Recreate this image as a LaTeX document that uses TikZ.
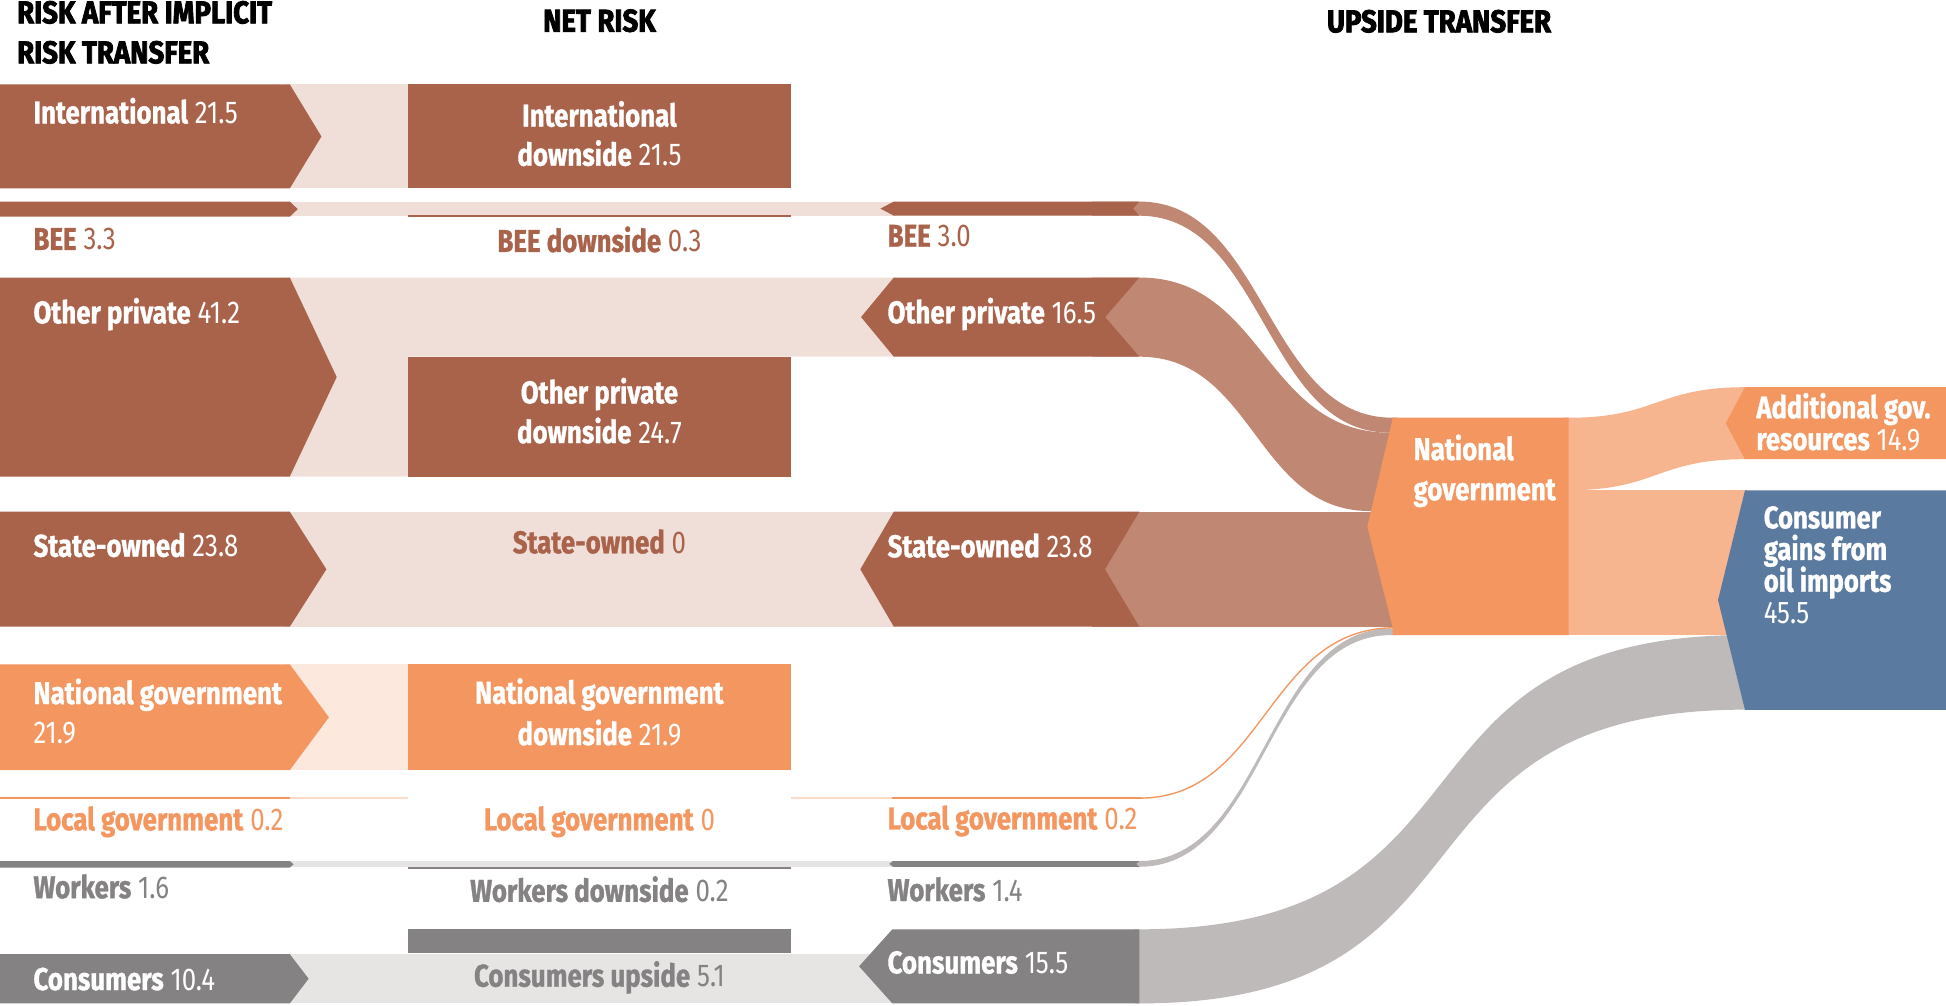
\documentclass[tikz,border=0pt]{standalone}
\usepackage{fontspec}
\setmainfont{Fira Sans}[FakeStretch=0.82, BoldFeatures={FakeBold=1}]
\newfontfamily\ttlfont{Fira Sans}[FakeStretch=0.875, BoldFeatures={FakeBold=2.5}]
\newcommand\msz{\fontsize{25.4}{30}\selectfont}
\newcommand\ssz{\fontsize{25.2}{26}\selectfont}
\newcommand\nv[2]{\textbf{#1} #2}
\definecolor{cBr}{RGB}{170,99,75}
\definecolor{cBrBand}{RGB}{240,223,216}
\definecolor{cBrFlow}{RGB}{192,135,114}
\definecolor{cOr}{RGB}{243,150,96}
\definecolor{cOrBand}{RGB}{253,232,222}
\definecolor{cOrFlow}{RGB}{246,181,143}
\definecolor{cOrFaint}{RGB}{251,218,200}
\definecolor{cGr}{RGB}{132,130,131}
\definecolor{cGrBand}{RGB}{230,229,228}
\definecolor{cGrFlow}{RGB}{189,186,185}
\definecolor{cBl}{RGB}{91,122,160}
\begin{document}
\begin{tikzpicture}[x=1pt,y=-1pt,
  lt/.style={inner sep=0pt, anchor=base west, font=\msz},
  ct/.style={inner sep=0pt, anchor=base, font=\msz},
  rt/.style={inner sep=0pt, anchor=base west, font=\ssz, text=white},
  ttl/.style={inner sep=0pt, font=\msz\ttlfont\bfseries, text=black}]
\useasboundingbox (0,0) rectangle (1568,810);
\fill[white] (0,0) rectangle (1568,810);

% ---------- light bands ----------
\fill[cBrBand] (230,68) rectangle (329,151.8);
\fill[cBrBand] (230,162.4) rectangle (722,173.8);
\fill[cBrBand] (230,223.6) -- (722,223.6) -- (722,287.4) -- (329,287.4) -- (329,384) -- (230,384) -- cycle;
\fill[cBrBand] (230,412.3) rectangle (722,505);
\fill[cOrBand] (230,535.3) rectangle (329,620.5);
\fill[cOrFaint] (230,642.4) rectangle (329,643.8);
\fill[cOrFaint] (637,642.4) rectangle (721,643.8);
\fill[cGrBand] (230,693.8) rectangle (722,698.3);
\fill[cGrBand] (230,768.8) rectangle (722,808.5);

% ---------- flows ----------
\fill[cBrFlow] (880,162.4) -- (918,162.4) .. controls (1020,162.4) and (1020,336.6) .. (1122,336.6)
  -- (1126,336.6) -- (1126,348.6) -- (1119.5,348.6) .. controls (1018.7,348.6) and (1018.7,173.8) .. (918,173.8) -- (880,173.8) -- cycle;
\fill[cBrFlow] (880,223.6) -- (918,223.6) .. controls (1018.7,223.6) and (1018.7,348.6) .. (1119.5,348.6)
  -- (1126,348.6) -- (1126,411.8) -- (1104,411.8) .. controls (1011,411.8) and (1011,287.4) .. (918,287.4) -- (880,287.4) -- cycle;
\fill[cBrFlow] (880,412.3) rectangle (1126,505);
\fill[cGrFlow] (910,693.8) -- (918,693.8) .. controls (1019.5,693.8) and (1019.5,506.4) .. (1121,506.4)
  -- (1126,506.4) -- (1126,511.7) -- (1121,511.7) .. controls (1019.5,511.7) and (1019.5,698.4) .. (918,698.4) -- (910,698.4) -- cycle;
\draw[cOr, line width=1.1pt] (918,643.1) .. controls (1020,643.1) and (1020,505.8) .. (1124,505.8);
\fill[cOrFlow] (1260,336.6) -- (1264,336.6) .. controls (1335,336.6) and (1335,312) .. (1406,312)
  -- (1406,370) .. controls (1335,370) and (1335,395) .. (1264,395) -- (1260,395) -- cycle;
\fill[cOrFlow] (1260,395) rectangle (1408,511.7);
\fill[cGrFlow] (914,748.8) -- (918,748.8) .. controls (1218,748.8) and (1106,511.7) .. (1406,511.7)
  -- (1410,511.7) -- (1410,571.8) -- (1406,571.8) .. controls (1106,571.8) and (1218,808.5) .. (918,808.5) -- (914,808.5) -- cycle;

% ---------- column 1 ----------
\fill[cBr] (0,68) -- (233.5,68) -- (259,110) -- (233.5,151.8) -- (0,151.8) -- cycle;
\fill[cBr] (0,162.4) -- (233.5,162.4) -- (239.9,168.5) -- (233.5,174.6) -- (0,174.6) -- cycle;
\fill[cBr] (0,223.6) -- (233.5,223.6) -- (271.3,303.8) -- (233.5,384) -- (0,384) -- cycle;
\fill[cBr] (0,412.3) -- (233.5,412.3) -- (263,458.7) -- (233.5,505) -- (0,505) -- cycle;
\fill[cOr] (0,535.3) -- (233.5,535.3) -- (265,578) -- (233.5,620.5) -- (0,620.5) -- cycle;
\fill[cOr] (0,642.2) rectangle (233.5,644);
\fill[cGr] (0,693.8) -- (233.5,693.8) -- (236.6,696.4) -- (233.5,699) -- (0,699) -- cycle;
\fill[cGr] (0,768.8) -- (233.5,768.8) -- (248.7,788.6) -- (233.5,808.5) -- (0,808.5) -- cycle;

% ---------- column 2 ----------
\fill[cBr] (329,68) rectangle (637,151.8);
\fill[cBr] (329,173.3) rectangle (637,175);
\fill[cBr] (329,287.4) rectangle (637,384);
\fill[cOr] (329,535.3) rectangle (637,620.5);
\fill[cGr] (329,698.3) rectangle (637,699.8);
\fill[cGr] (329,748.8) rectangle (637,768.2);

% ---------- column 3 ----------
\fill[cBr] (709.4,168.1) -- (720.2,162.4) -- (918,162.4) -- (913,168.1) -- (918,173.8) -- (720.2,173.8) -- cycle;
\fill[cBr] (693.8,255.5) -- (720.2,223.6) -- (918,223.6) -- (890.5,255.5) -- (918,287.4) -- (720.2,287.4) -- cycle;
\fill[cBr] (693.2,458.7) -- (720.2,412.3) -- (918,412.3) -- (890.3,458.7) -- (918,505) -- (720.2,505) -- cycle;
\fill[cOr] (719,642.4) rectangle (919,643.9);
\fill[cGr] (716.5,696.1) -- (719.5,693.8) -- (918,693.8) -- (915.5,696.1) -- (918,698.4) -- (719.5,698.4) -- cycle;
\fill[cGr] (692.2,778.6) -- (719,748.8) -- (918,748.8) -- (918,808.5) -- (719,808.5) -- cycle;

% ---------- national government and right boxes ----------
\fill[cOr] (1122.2,336.6) -- (1264,336.6) -- (1264,511.7) -- (1122,511.7) -- (1122,505) -- (1101.7,424.4) -- cycle;
\fill[cOr] (1406,312) -- (1568,312) -- (1568,370) -- (1406,370) -- (1390.5,341) -- cycle;
\fill[cBl] (1406,395.2) -- (1568,395.2) -- (1568,572) -- (1406,572) -- (1384.3,483.5) -- cycle;

% ---------- titles ----------
\node[ttl, anchor=base west] (h1a) at (13.6,18.8) {RISK AFTER IMPLICIT};
\node[ttl, anchor=base west] (h1b) at (13.6,51) {RISK TRANSFER};
\node[ttl, anchor=base] (h2) at (483,25.5) {NET RISK};
\node[ttl, anchor=base] (h3) at (1159.5,26) {UPSIDE TRANSFER};

% ---------- column 1 labels ----------
\node[lt, text=white] (a1) at (26.8,99.4) {\nv{International}{21.5}};
\node[lt, text=cBr] (a2) at (26.8,201.4) {\nv{BEE}{3.3}};
\node[lt, text=white] (a3) at (26.8,260.6) {\nv{Other private}{41.2}};
\node[lt, text=white] (a4) at (26.8,448.6) {\nv{State-owned}{23.8}};
\node[lt, text=white] (a5a) at (26.8,567.3) {\textbf{National government}};
\node[lt, text=white] (a5b) at (26.8,599) {21.9};
\node[lt, text=cOr] (a6) at (26.8,669) {\nv{Local government}{0.2}};
\node[lt, text=cGr] (a7) at (26.8,723.7) {\nv{Workers}{1.6}};
\node[lt, text=white] (a8) at (26.8,797.7) {\nv{Consumers}{10.4}};

% ---------- column 2 labels ----------
\node[ct, text=white] (b1a) at (483,102) {\textbf{International}};
\node[ct, text=white] (b1b) at (483,133.5) {\nv{downside}{21.5}};
\node[ct, text=cBr] (b2) at (483,203) {\nv{BEE downside}{0.3}};
\node[ct, text=white] (b3a) at (483,325) {\textbf{Other private}};
\node[ct, text=white] (b3b) at (483,357) {\nv{downside}{24.7}};
\node[ct, text=cBr] (b4) at (483,445.8) {\nv{State-owned}{0}};
\node[ct, text=white] (b5a) at (483,567) {\textbf{National government}};
\node[ct, text=white] (b5b) at (483,600.3) {\nv{downside}{21.9}};
\node[ct, text=cOr] (b6) at (483,669) {\nv{Local government}{0}};
\node[ct, text=cGr] (b7) at (483,726.6) {\nv{Workers downside}{0.2}};
\node[ct, text=cGr] (b8) at (483,795) {\nv{Consumers upside}{5.1}};

% ---------- column 3 labels ----------
\node[lt, text=cBr] (c2) at (715,198.8) {\nv{BEE}{3.0}};
\node[lt, text=white] (c3) at (715,260.5) {\nv{Other private}{16.5}};
\node[lt, text=white] (c4) at (715,449) {\nv{State-owned}{23.8}};
\node[lt, text=cOr] (c6) at (715,668.3) {\nv{Local government}{0.2}};
\node[lt, text=cGr] (c7) at (715,726) {\nv{Workers}{1.4}};
\node[lt, text=white] (c8) at (715,784.3) {\nv{Consumers}{15.5}};

% ---------- upside transfer labels ----------
\node[lt, text=white] (nga) at (1138.8,370.7) {\textbf{National}};
\node[lt, text=white] (ngb) at (1138.8,403) {\textbf{government}};
\node[rt] (ada) at (1415,337) {\textbf{Additional gov.}};
\node[rt] (adb) at (1415,362.6) {\nv{resources}{14.9}};
\node[rt] (cga) at (1421,425.7) {\textbf{Consumer}};
\node[rt] (cgb) at (1421,451.2) {\textbf{gains from}};
\node[rt] (cgc) at (1421,476.8) {\textbf{oil imports}};
\node[rt] (cgd) at (1421,502.3) {45.5};
\end{tikzpicture}
\end{document}
